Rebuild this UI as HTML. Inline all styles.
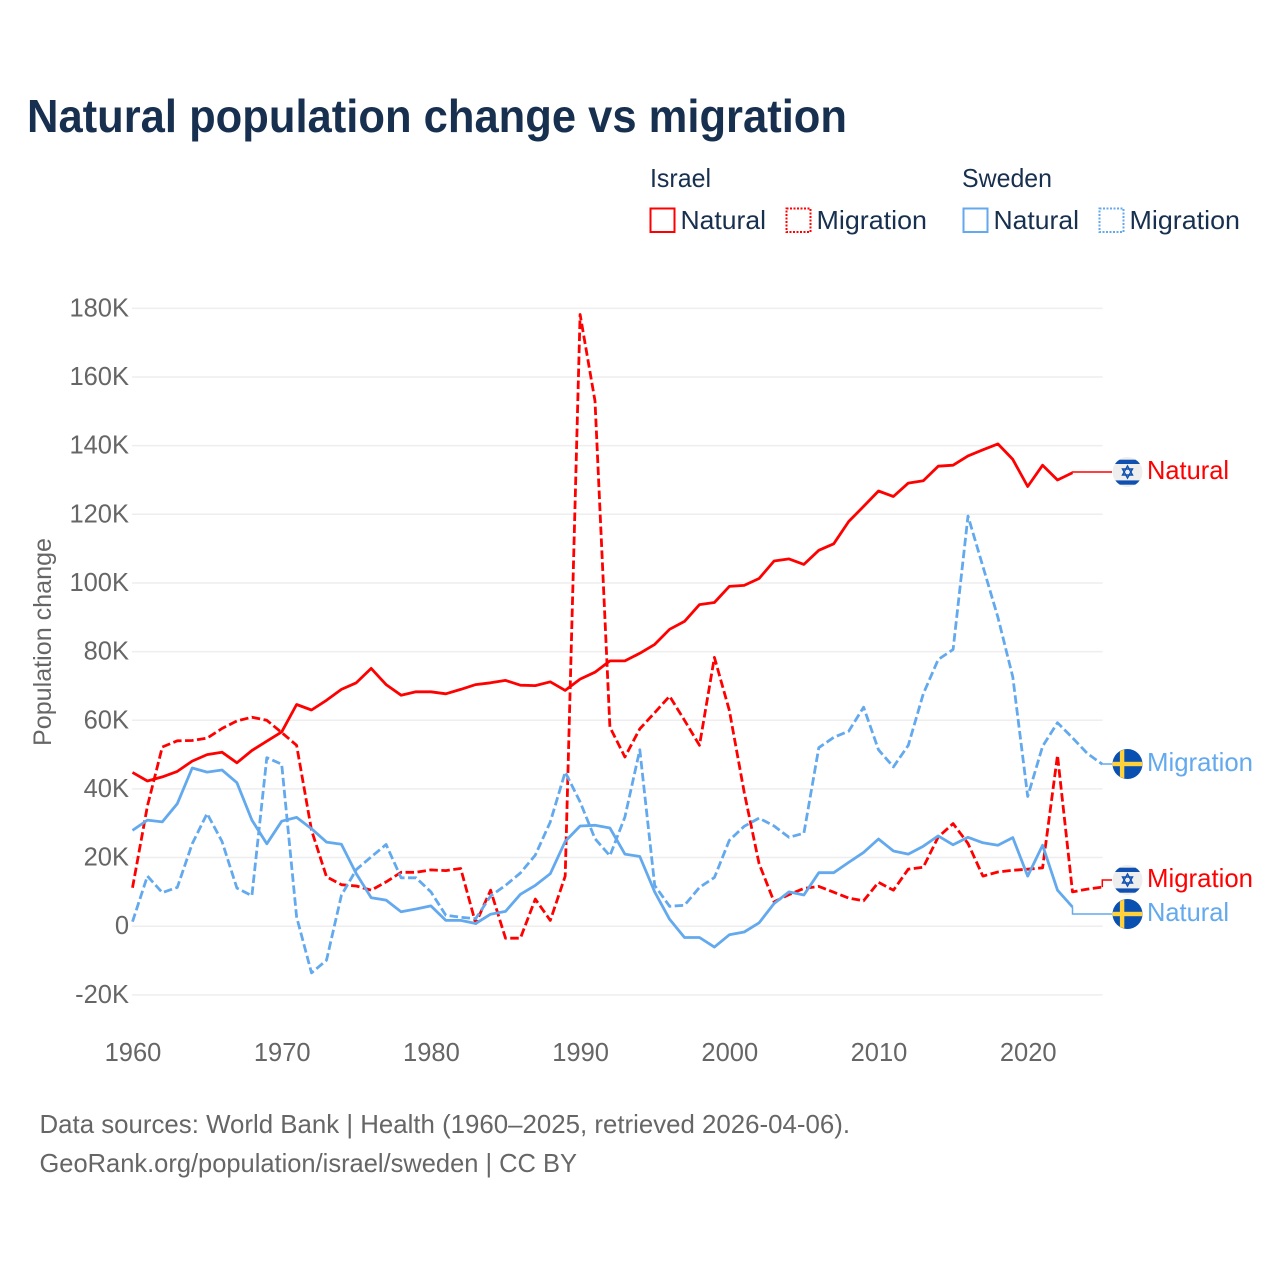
<!DOCTYPE html>
<html lang="en">
<head>
<meta charset="utf-8">
<title>Natural population change vs migration</title>
<style>
html,body{margin:0;padding:0;background:#fff;}
#chart{display:block;width:1280px;height:1280px;font-family:"Liberation Sans",sans-serif;}
</style>
</head>
<body>
<svg id="chart" xmlns="http://www.w3.org/2000/svg" width="1280" height="1280" viewBox="0 0 1280 1280">
  <rect x="0" y="0" width="1280" height="1280" fill="#fff"/>
  <text x="27" y="132" font-size="46" font-weight="700" fill="#18304f" textLength="820" lengthAdjust="spacingAndGlyphs">Natural population change vs migration</text>

  <g font-size="26" fill="#18304f">
    <text x="650" y="187" textLength="61" lengthAdjust="spacingAndGlyphs">Israel</text>
    <text x="962" y="187" textLength="90" lengthAdjust="spacingAndGlyphs">Sweden</text>
    <rect x="650.5" y="208.5" width="24" height="23.5" fill="none" stroke="#ff0000" stroke-width="2"/>
    <text x="680.5" y="229" textLength="85.5" lengthAdjust="spacingAndGlyphs">Natural</text>
    <rect x="786.5" y="208.5" width="24" height="23.5" fill="none" stroke="#ff0000" stroke-width="2" stroke-dasharray="2 1.5"/>
    <text x="816.5" y="229" textLength="110.5" lengthAdjust="spacingAndGlyphs">Migration</text>
    <rect x="963.5" y="208.5" width="24" height="23.5" fill="none" stroke="#63a9ee" stroke-width="2"/>
    <text x="993.5" y="229" textLength="85.5" lengthAdjust="spacingAndGlyphs">Natural</text>
    <rect x="1099.5" y="208.5" width="24" height="23.5" fill="none" stroke="#63a9ee" stroke-width="2" stroke-dasharray="2 1.5"/>
    <text x="1129.5" y="229" textLength="110.5" lengthAdjust="spacingAndGlyphs">Migration</text>
  </g>

  <g id="grid"></g>
  <g id="yticks"></g>
  <g id="xticks"></g>
  <text transform="translate(51 746) rotate(-90)" font-size="25" fill="#666" textLength="208" lengthAdjust="spacingAndGlyphs">Population change</text>
  <g id="series"></g>
  <g id="labels"></g>

  <text x="39.5" y="1133" font-size="26" fill="#666" textLength="810.5" lengthAdjust="spacingAndGlyphs">Data sources: World Bank | Health (1960–2025, retrieved 2026-04-06).</text>
  <text x="39.5" y="1172" font-size="26" fill="#666" textLength="537.5" lengthAdjust="spacingAndGlyphs">GeoRank.org/population/israel/sweden | CC BY</text>
</svg>
<script>
var years = [1960,1961,1962,1963,1964,1965,1966,1967,1968,1969,1970,1971,1972,1973,1974,1975,1976,1977,1978,1979,1980,1981,1982,1983,1984,1985,1986,1987,1988,1989,1990,1991,1992,1993,1994,1995,1996,1997,1998,1999,2000,2001,2002,2003,2004,2005,2006,2007,2008,2009,2010,2011,2012,2013,2014,2015,2016,2017,2018,2019,2020,2021,2022,2023,2024,2025];
var israelNatural = [44.8,42.3,43.5,45.1,48.1,50,50.7,47.6,51.2,53.9,56.6,64.6,63,65.8,69,70.9,75.1,70.4,67.3,68.3,68.3,67.7,69,70.4,70.9,71.6,70.2,70.1,71.2,68.7,72,74,77.3,77.3,79.5,82.1,86.5,88.8,93.7,94.3,99,99.3,101.3,106.4,107,105.4,109.5,111.4,117.9,122.3,126.8,125.2,129.1,129.8,134,134.3,137,138.8,140.5,136,128.1,134.3,130,132.1];
var israelMigration = [11.2,35,52.2,54,54.1,54.8,57.6,59.8,60.9,60,56.4,52.7,28,14.4,12.1,11.7,10.5,12.9,15.7,15.7,16.4,16.2,16.8,0.8,10.5,-3.5,-3.5,7.9,1.7,14.6,178.2,153,58,49.3,57.5,62.2,67,60,52.7,78.3,62.9,39,18.2,7.1,9.2,11,11.6,9.9,8.2,7.4,12.8,10.5,16.6,17.2,26,29.9,24.1,14.6,15.8,16.3,16.6,17,49.8,10,10.8,11.4];
var swedenNatural = [27.9,30.9,30.4,35.7,46.1,44.9,45.5,41.8,30.9,24,30.6,31.7,28.4,24.5,23.9,15.3,8.3,7.6,4.2,5,5.9,1.7,1.7,0.8,3.5,4.3,9.3,11.9,15.3,24.7,29.2,29.4,28.6,21,20.3,10,2,-3.3,-3.3,-6.1,-2.5,-1.7,1,6.6,10,9.1,15.6,15.6,18.6,21.5,25.4,21.9,21,23.3,26.3,23.7,25.9,24.3,23.6,25.8,14.6,23.6,10.5,5.6];
var swedenMigration = [1.3,14.6,9.8,11.3,24,32.8,24.7,11.1,8.9,49.1,47.2,2.7,-13.6,-9.9,9,16.5,20.2,23.8,14.1,14.1,10,3.2,2.6,2.2,8.8,11.9,15.5,20.7,30.4,44.9,36.2,25.5,20.5,31.8,51.4,11.9,5.8,6.1,11.3,14.2,25,29.1,31.5,29.2,25.9,27.1,52,55,56.8,63.8,51.4,46.4,52.7,67.7,77.7,80.6,119.5,104.8,90,72.6,37.8,52.4,59.3,54.9,50.3,47.2];
var yTicks = [-20,0,20,40,60,80,100,120,140,160,180];
var xTicks = [1960,1970,1980,1990,2000,2010,2020];

var NS = 'http://www.w3.org/2000/svg';
function xScale(year){ return 132.5 + (year - 1960) * 14.92; }
function yScale(k){ return 926.2 - k * 3.4325; }
function make(tag, parent, attrs){
  var el = document.createElementNS(NS, tag);
  for (var k in attrs) el.setAttribute(k, attrs[k]);
  parent.appendChild(el);
  return el;
}
function tickLabel(v){ return v === 0 ? '0' : v + 'K'; }

var gridG = document.getElementById('grid');
var yG = document.getElementById('yticks');
var xG = document.getElementById('xticks');
var seriesG = document.getElementById('series');
var labelsG = document.getElementById('labels');

yTicks.forEach(function(v){
  var line = make('line', gridG, {x1:132, x2:1102.5, y1:yScale(v), y2:yScale(v), stroke:'#eeeeee', 'stroke-width':1.5});
  
  
  var t = make('text', yG, {x:129, y:yScale(v)+8, 'text-anchor':'end', 'font-size':25.5, fill:'#666'});
  
  
  t.textContent = tickLabel(v);
});

xTicks.forEach(function(y){
  var t = make('text', xG, {x:xScale(y)+0.5, y:1061, 'text-anchor':'middle', 'font-size':25.5, fill:'#666'});
  
  
  t.textContent = y;
});

function drawSeries(values, color, dashed, name){
  var d = values.map(function(v,i){ return (i ? 'L' : 'M') + xScale(years[i]).toFixed(1) + ' ' + yScale(v).toFixed(1); }).join(' ');
  var p = make('path', seriesG, {d:d, fill:'none', stroke:color, 'stroke-width':2.8, 'stroke-linejoin':'round'});
  if (dashed) p.setAttribute('stroke-dasharray', '8.5 3.5');
  
  
}
drawSeries(israelNatural, '#ff0000', false, 'line-israel-natural');
drawSeries(israelMigration, '#ff0000', true, 'line-israel-migration');
drawSeries(swedenNatural, '#63a9ee', false, 'line-sweden-natural');
drawSeries(swedenMigration, '#63a9ee', true, 'line-sweden-migration');

function drawFlag(kind, cx, cy, group){
  var clipId = 'flagclip' + Math.round(cy);
  var clipPath = make('clipPath', group, {id:clipId});
  make('circle', clipPath, {cx:cx, cy:cy, r:14.8});
  if (kind === 'israel') {
    make('circle', group, {cx:cx, cy:cy, r:15, fill:'#eeeeee'});
    make('rect', group, {x:cx-15, y:cy-12.3, width:30, height:4.3, fill:'#0f50b0', 'clip-path':'url(#'+clipId+')'});
    make('rect', group, {x:cx-15, y:cy+8.4, width:30, height:4.3, fill:'#0f50b0', 'clip-path':'url(#'+clipId+')'});
    var up = [cx, cy-6, cx+5, cy+3, cx-5, cy+3].join(' ');
    var dn = [cx, cy+6, cx+5, cy-3, cx-5, cy-3].join(' ');
    make('polygon', group, {points:up, fill:'none', stroke:'#0f50b0', 'stroke-width':1.4});
    make('polygon', group, {points:dn, fill:'none', stroke:'#0f50b0', 'stroke-width':1.4});
  } else {
    make('circle', group, {cx:cx, cy:cy, r:15, fill:'#0a50b0'});
    make('rect', group, {x:cx-15, y:cy-2.2, width:30, height:4.4, fill:'#ffd23c', 'clip-path':'url(#'+clipId+')'});
    make('rect', group, {x:cx-7.6, y:cy-15, width:4.4, height:30, fill:'#ffd23c', 'clip-path':'url(#'+clipId+')'});
  }
}

function drawEndLabel(values, color, flag, labelY, text, textWidth, name){
  var lastIndex = values.length - 1;
  var x0 = xScale(years[lastIndex]);
  var y0 = yScale(values[lastIndex]);
  var leader = make('path', labelsG, {d:'M'+x0.toFixed(1)+' '+y0.toFixed(1)+' L'+x0.toFixed(1)+' '+labelY+' L1112 '+labelY, fill:'none', stroke:color, 'stroke-width':1.5});
  
  
  var g = make('g', labelsG, {});
  
  
  drawFlag(flag, 1127.5, labelY, g);
  var t = make('text', labelsG, {x:1147, y:labelY+6.8, 'font-size':26, fill:color, textLength:textWidth, lengthAdjust:'spacingAndGlyphs'});
  
  
  t.textContent = text;
}
drawEndLabel(israelNatural, '#ff0000', 'israel', 472, 'Natural', 82, 'israel-natural');
drawEndLabel(swedenMigration, '#63a9ee', 'sweden', 764, 'Migration', 106, 'sweden-migration');
drawEndLabel(israelMigration, '#ff0000', 'israel', 880, 'Migration', 106, 'israel-migration');
drawEndLabel(swedenNatural, '#63a9ee', 'sweden', 914, 'Natural', 82, 'sweden-natural');
</script>
</body>
</html>
